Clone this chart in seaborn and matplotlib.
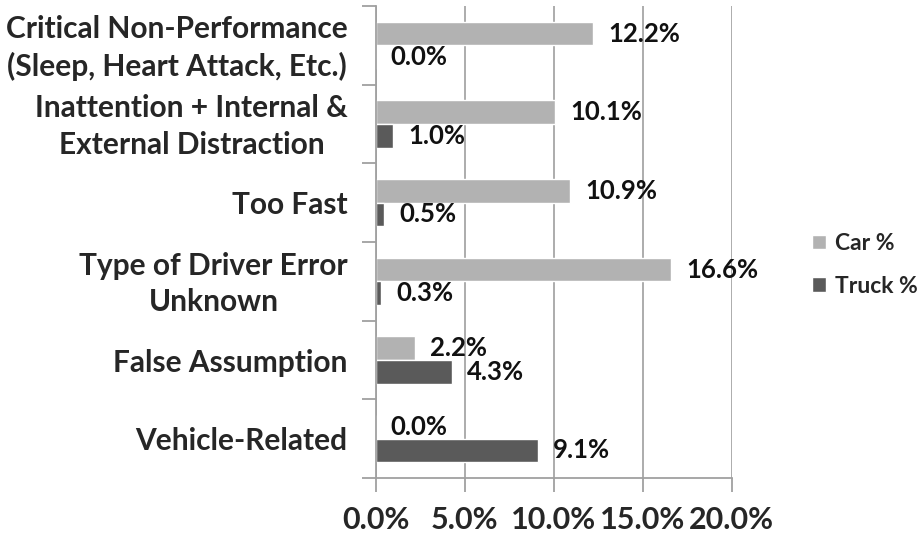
import matplotlib
matplotlib.use("Agg")
import matplotlib.pyplot as plt
import seaborn as sns
import pandas as pd
from matplotlib.ticker import FuncFormatter, FixedLocator
from matplotlib.transforms import ScaledTranslation

categories = [
    "Critical Non-Performance\n(Sleep, Heart Attack, Etc.)",
    "Inattention + Internal &\nExternal Distraction",
    "Too Fast",
    "Type of Driver Error\nUnknown",
    "False Assumption",
    "Vehicle-Related",
]
car_pct = [12.2, 10.1, 10.9, 16.6, 2.2, 0.0]
truck_pct = [0.0, 1.0, 0.5, 0.3, 4.3, 9.1]
series_names = ["Car %", "Truck %"]
x_ticks = [0, 5, 10, 15, 20]

df = pd.DataFrame({
    "category": categories * 2,
    "value": car_pct + truck_pct,
    "series": [series_names[0]] * len(categories) + [series_names[1]] * len(categories),
})

sns.set_style("white")
plt.rcParams["font.family"] = ["Lato", "DejaVu Sans"]
plt.rcParams["font.weight"] = "bold"

fig = plt.figure(figsize=(9.22, 5.35), dpi=100)
ax = fig.add_axes([0.4073, 0.1065, 0.3863, 0.8823])

sns.barplot(data=df, x="value", y="category", hue="series", orient="h",
            order=categories, hue_order=series_names,
            palette=["#B2B2B2", "#5A5A5A"], saturation=1, width=0.6,
            errorbar=None, ax=ax)

ax.set_xlim(0, 20)
ax.set_ylim(len(categories) - 0.5, -0.5)
ax.set_xticks(x_ticks)
ax.xaxis.set_major_formatter(FuncFormatter(lambda v, p: f"{v:.1f}%"))
ax.grid(axis="x", color="#A6A6A6", linewidth=1.3)
ax.set_axisbelow(True)
ax.set_xlabel("")
ax.set_ylabel("")

for s in ["top", "right"]:
    ax.spines[s].set_visible(False)
for s in ["left", "bottom"]:
    ax.spines[s].set_color("#A0A0A0")
    ax.spines[s].set_linewidth(1.3)

# category separators as minor ticks
ax.yaxis.set_minor_locator(FixedLocator([i - 0.5 for i in range(len(categories) + 1)]))
ax.tick_params(axis="y", which="minor", length=10, width=1.3, color="#A0A0A0", left=True)
ax.tick_params(axis="y", which="major", length=0, pad=20, labelsize=21.5)
ax.tick_params(axis="x", which="major", length=10, width=1.3, color="#A0A0A0",
               bottom=True, pad=10, labelsize=22)
shift_up = ScaledTranslation(0, 4 / 100, fig.dpi_scale_trans)
for lab in ax.get_yticklabels():
    lab.set_multialignment("center")
    lab.set_fontweight("bold")
    lab.set_linespacing(1.35)
    if "\n" in lab.get_text():
        lab.set_transform(lab.get_transform() + shift_up)
for lab in ax.get_xticklabels():
    lab.set_fontweight("bold")

for cont, vals in zip(ax.containers, [car_pct, truck_pct]):
    ax.bar_label(cont, labels=[f"{v:.1f}%" for v in vals], padding=11,
                 fontsize=18.5, fontweight="bold", color="#111111")

leg = ax.legend(loc="center left", bbox_to_anchor=(0.876, 0.505), bbox_transform=fig.transFigure,
                frameon=False, fontsize=16.5, handlelength=0.6, handleheight=0.6,
                labelspacing=0.95, handletextpad=0.4, borderaxespad=0, borderpad=0.2)
for t in leg.get_texts():
    t.set_fontweight("bold")

fig.savefig("out.png", dpi=100)
